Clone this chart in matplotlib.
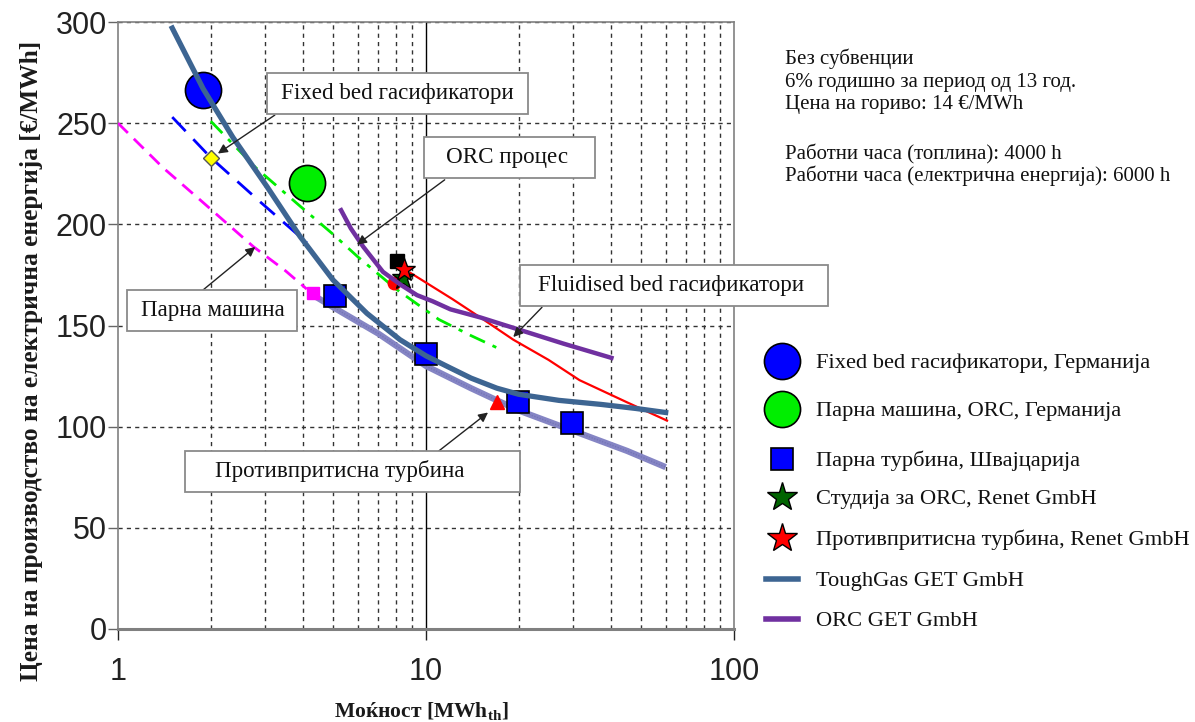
import matplotlib
matplotlib.use("Agg")
import matplotlib.pyplot as plt
from matplotlib.lines import Line2D
from matplotlib.patches import Rectangle
from matplotlib.ticker import FixedLocator, NullFormatter

plt.rcParams["mathtext.fontset"] = "custom"
plt.rcParams["mathtext.rm"] = "Liberation Serif"
plt.rcParams["mathtext.bf"] = "Liberation Serif:bold"

SERIF = ["Liberation Serif", "DejaVu Serif"]
SANS = ["Liberation Sans", "DejaVu Sans"]
W, H = 1195, 722

# curves: power [MWh_th] vs price [€/MWh]
toughgas_x = [1.5, 1.89, 2.36, 3.05, 3.9, 4.99, 6.43, 8.23, 10, 12, 14, 17, 20, 27, 37, 48, 60]
toughgas_y = [297, 267, 243, 218.5, 194, 172.5, 156, 143, 135, 129, 124, 119, 116, 113, 111, 109, 107]
orc_x = [5.3, 5.7, 6.25, 7.25, 8.3, 9.35, 10.5, 12, 15, 20, 28, 40]
orc_y = [207, 198, 189, 176.5, 170, 165, 162, 158, 154, 148, 141, 134]
red_x = [8.9, 12.2, 15, 19.2, 25, 31.5, 45, 60.6]
red_y = [176, 163, 154, 143, 133, 123, 112, 103]
green_x = [2.0, 2.8, 3.9, 5.0, 6.0, 8.0, 11, 14, 17]
green_y = [251, 228, 209, 195, 184, 168, 153, 145, 139]
blue_x = [1.5, 2.0, 2.9, 4.1]
blue_y = [253, 233, 211, 191]
magenta_x = [1.0, 1.4, 1.85, 2.75, 3.5, 4.1]
magenta_y = [250, 228, 212, 189, 177, 168]
lav_x = [4.3, 5.0, 7.0, 10, 14, 20, 30, 45, 60]
lav_y = [165, 159, 146, 130, 119, 108, 98, 88, 80]

# single points
fixedbed_x, fixedbed_y = [1.89], [266.5]
steam_orc_x, steam_orc_y = [4.11], [220.5]
turbine_x = [5.06, 10, 19.9, 29.8]
turbine_y = [164.6, 136, 112, 102]
magenta_pt_x, magenta_pt_y = [4.3], [166]
diamond_x, diamond_y = [2.0], [233]
triangle_x, triangle_y = [17], [112]
black_x, black_y = [8.05], [182]
redcirc_x, redcirc_y = [7.9], [171]
orc_star_x, orc_star_y = [8.4], [173.5]
bp_star_x, bp_star_y = [8.5], [177.5]

y_ticks = [0, 50, 100, 150, 200, 250, 300]
x_ticks = [1, 10, 100]
x_minor = [2, 3, 4, 5, 6, 7, 8, 9, 20, 30, 40, 50, 60, 70, 80, 90]

legend_labels = [
    "Fixed bed гасификатори, Германија",
    "Парна машина, ORC, Германија",
    "Парна турбина, Швајцарија",
    "Студија за ORC, Renet GmbH",
    "Противпритисна турбина, Renet GmbH",
    "ToughGas GET GmbH",
    "ORC GET GmbH",
]

note_lines = [
    "Без субвенции",
    "6% годишно за период од 13 год.",
    "Цена на гориво: 14 €/MWh",
    "Работни часа (топлина): 4000 h",
    "Работни часа (електрична енергија): 6000 h",
]
note_baselines = [64, 86.5, 109, 159, 181.5]

# callouts: text, box (left, top, right, bottom) and text start in pixels,
# arrow start/end in data coords
callouts = [
    ("Fixed bed гасификатори", (267, 73, 528, 114), 281, (3.23, 254), (2.11, 235)),
    ("ORC процес", (424, 137, 595, 178), 446, (11.5, 222), (5.97, 190)),
    ("Парна машина", (127, 290, 297, 331), 141, (1.89, 167.6), (2.79, 188.8)),
    ("Fluidised bed гасификатори", (520, 265, 828, 306), 538, (23.8, 159), (19.2, 144.3)),
    ("Противпритисна турбина", (185, 451, 520, 492), 215, (10.9, 87.5), (15.9, 107)),
]

STEEL = "#3d6592"
PURPLE = "#7030a0"
LAV = "#8585c4"

fig = plt.figure(figsize=(W / 100, H / 100), dpi=100)
ax = fig.add_axes([118 / W, 1 - 629 / H, 616 / W, 607 / H])
ax.set_xscale("log")
ax.set_xlim(1, 100)
ax.set_ylim(0, 300)

# grid
ax.xaxis.set_major_locator(FixedLocator(x_ticks))
ax.xaxis.set_minor_locator(FixedLocator(x_minor))
ax.xaxis.set_minor_formatter(NullFormatter())
ax.set_xticklabels([str(t) for t in x_ticks])
ax.set_yticks(y_ticks)
ax.grid(which="minor", axis="x", color="#333333", lw=1, ls=(0, (3, 3)))
ax.grid(which="major", axis="y", color="#333333", lw=1, ls=(0, (3, 3)))
ax.axvline(10, color="black", lw=1, zorder=1)
ax.set_axisbelow(True)

ax.tick_params(which="minor", length=0)
ax.tick_params(axis="y", which="major", direction="out", length=7, width=1, color="#666666", pad=1)
ax.tick_params(axis="x", which="major", direction="out", length=8, width=1, color="#222222", pad=12)
for lab in ax.get_xticklabels() + ax.get_yticklabels():
    lab.set_family(SANS)
    lab.set_fontsize(22)
    lab.set_color("#222222")
for sp in ax.spines.values():
    sp.set_color("#808080")
    sp.set_linewidth(1.2)
ax.spines["bottom"].set_linewidth(2.2)

# curves
ax.plot(magenta_x, magenta_y, color="#ff00ff", lw=2, ls=(0, (5, 3)), zorder=3)
ax.plot(blue_x, blue_y, color="#0000ff", lw=2, ls=(0, (7, 4)), zorder=3)
ax.plot(green_x, green_y, color="#00ee00", lw=2, ls=(0, (6, 3, 1.5, 3)), zorder=3)
ax.plot(lav_x, lav_y, color=LAV, lw=4.5, zorder=3, solid_capstyle="butt")
ax.plot(lav_x, lav_y, color="#6a6ab0", lw=1, ls=(0, (1, 1)), alpha=0.6, zorder=3)
ax.plot(red_x, red_y, color="#ff0000", lw=1.6, zorder=4)

# markers
ax.plot(fixedbed_x, fixedbed_y, "o", ms=26, mfc="#0000ff", mec="black", mew=1.2, zorder=5)
ax.plot(steam_orc_x, steam_orc_y, "o", ms=26, mfc="#00ee00", mec="black", mew=1.2, zorder=5)
ax.plot(turbine_x, turbine_y, "s", ms=16, mfc="#0000ff", mec="black", mew=1.2, zorder=5)
ax.plot(magenta_pt_x, magenta_pt_y, "s", ms=9, mfc="#ff00ff", mec="#ff00ff", zorder=5)
ax.plot(diamond_x, diamond_y, "D", ms=8, mfc="#ffff00", mec="#555555", mew=1, zorder=6)
ax.plot(triangle_x, triangle_y, "^", ms=10, mfc="#ff0000", mec="#ff0000", zorder=6)
ax.plot(black_x, black_y, "s", ms=10, mfc="black", mec="black", zorder=5)
ax.plot(redcirc_x, redcirc_y, "o", ms=9, mfc="#ff0000", mec="#ff0000", zorder=5)
ax.plot(orc_star_x, orc_star_y, "*", ms=17, mfc="#006400", mec="black", mew=1, zorder=6)
ax.plot(bp_star_x, bp_star_y, "*", ms=17, mfc="#ff0000", mec="black", mew=1, zorder=7)

ax.plot(orc_x, orc_y, color=PURPLE, lw=3.2, zorder=8)
ax.plot(toughgas_x, toughgas_y, color=STEEL, lw=3.8, zorder=8)

# callout boxes with arrows
for text, (l, t, r, b), tx, start, end in callouts:
    fig.patches.append(Rectangle((l / W, 1 - b / H), (r - l) / W, (b - t) / H,
                                 transform=fig.transFigure, fc="white", ec="#8a8a8a",
                                 lw=1.3, zorder=10))
    fig.text(tx / W, 1 - (t + b) / 2 / H, text, family=SERIF, fontsize=16.6,
             ha="left", va="center", color="#111111", zorder=11)
    ax.annotate("", xy=end, xytext=start, zorder=11,
                arrowprops=dict(arrowstyle="-|>", color="#222222", lw=1, mutation_scale=14,
                                shrinkA=0, shrinkB=0))

fig.text(43 / W, 1 - 361 / H, "Цена на производство на електрична енергија [€/MWh]",
         family=SERIF, fontsize=18.3, fontweight="bold", color="#1a1a1a",
         rotation=90, ha="right", va="center")

fig.text(421 / W, 1 - 712 / H, r"Моќност [MWh$_{\mathbf{th}}$]", family=SERIF,
         fontsize=15.5, fontweight="bold", ha="center", va="center", color="#1a1a1a")

for line, yb in zip(note_lines, note_baselines):
    fig.text(785 / W, 1 - yb / H, line, family=SERIF, fontsize=15,
             ha="left", va="baseline", color="#111111")

# legend, one row at a time so the rows sit where they do in the original
handles = [
    Line2D([], [], ls="none", marker="o", ms=26, mfc="#0000ff", mec="black", mew=1.2),
    Line2D([], [], ls="none", marker="o", ms=26, mfc="#00ee00", mec="black", mew=1.2),
    Line2D([], [], ls="none", marker="s", ms=16, mfc="#0000ff", mec="black", mew=1.2),
    Line2D([], [], ls="none", marker="*", ms=22, mfc="#006400", mec="black", mew=1),
    Line2D([], [], ls="none", marker="*", ms=22, mfc="#ff0000", mec="black", mew=1),
    Line2D([], [], color=STEEL, lw=4),
    Line2D([], [], color=PURPLE, lw=4),
]
row_y = [363, 411, 461, 499, 540, 581, 621]
for h, lab, y in zip(handles, legend_labels, row_y):
    fig.legend(handles=[h], labels=[lab], loc="center left",
               bbox_to_anchor=(766 / W, 1 - y / H), frameon=False,
               prop={"family": SERIF, "size": 16.2}, handlelength=1.4, handletextpad=0.83,
               borderpad=0, borderaxespad=0, labelcolor="#111111")

fig.savefig("out.png", dpi=100)
